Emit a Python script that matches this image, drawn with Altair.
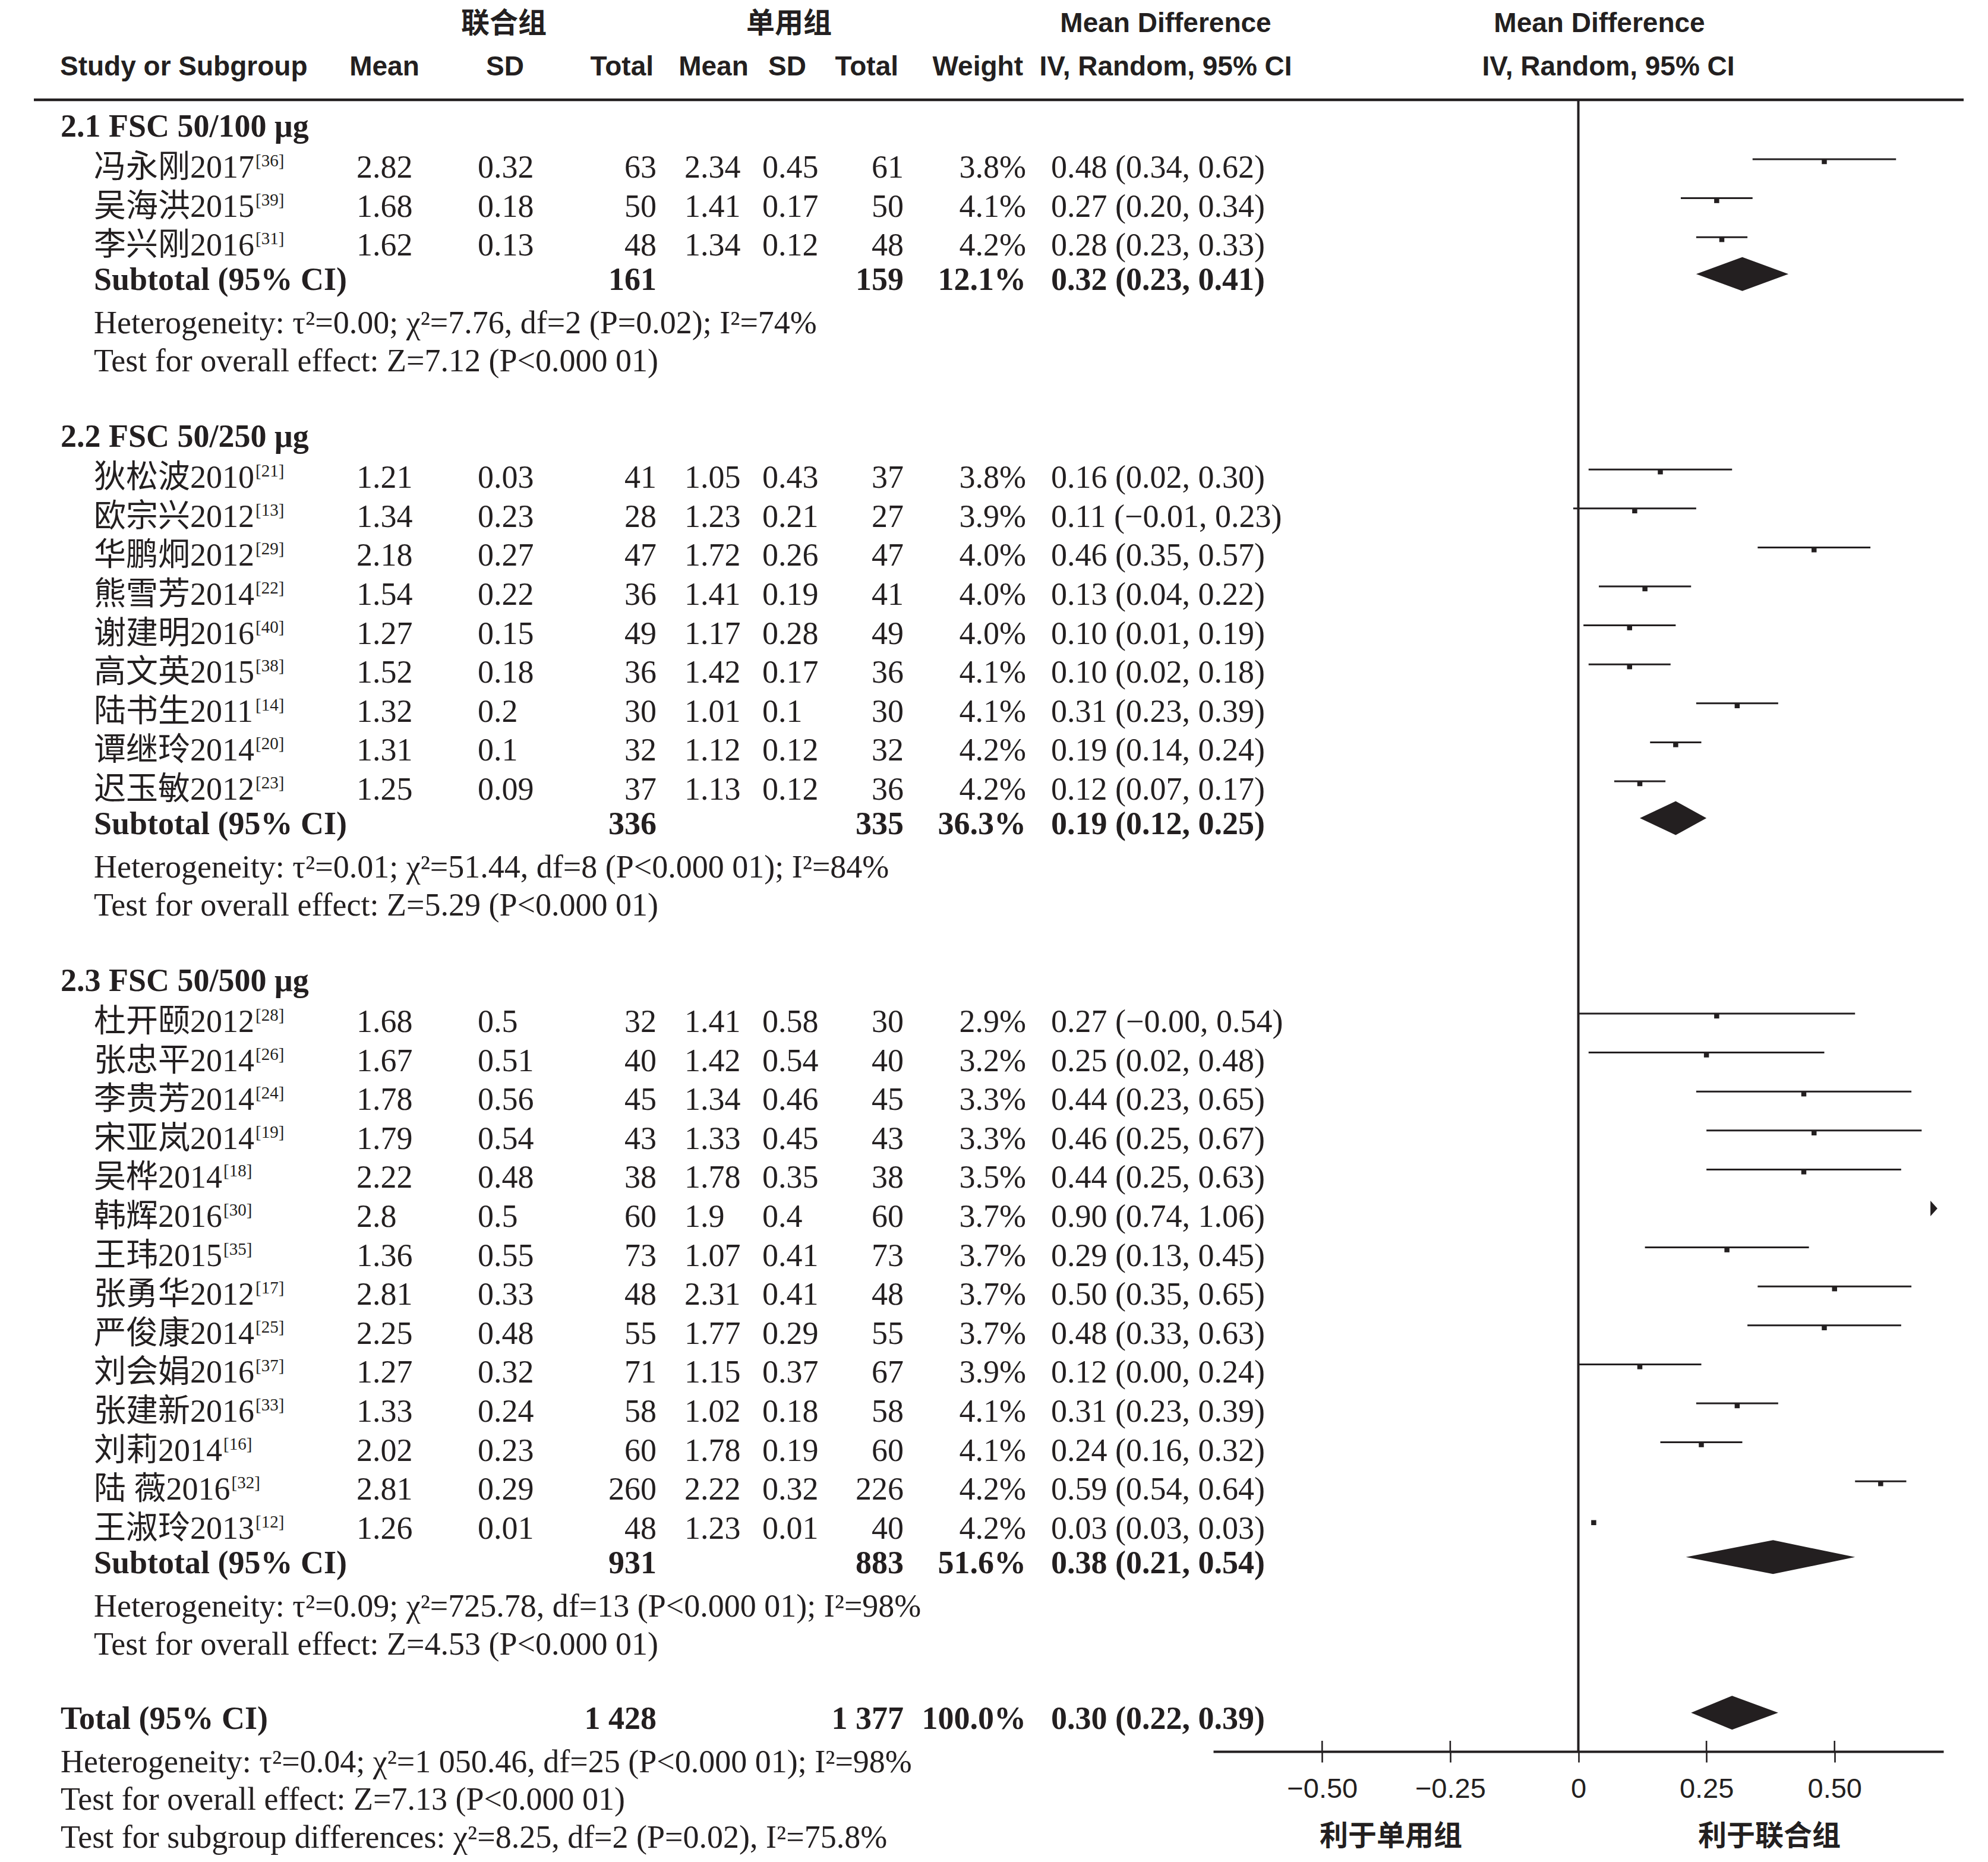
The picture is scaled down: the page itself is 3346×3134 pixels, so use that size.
import altair as alt
import pandas as pd

# ---------------- data ----------------
group_labels = ["2.1 FSC 50/100 μg", "2.2 FSC 50/250 μg", "2.3 FSC 50/500 μg"]
group_sizes = [3, 9, 14]
study_names = ["冯永刚2017", "吴海洪2015", "李兴刚2016",
               "狄松波2010", "欧宗兴2012", "华鹏炯2012", "熊雪芳2014", "谢建明2016",
               "高文英2015", "陆书生2011", "谭继玲2014", "迟玉敏2012",
               "杜开颐2012", "张忠平2014", "李贵芳2014", "宋亚岚2014", "吴桦2014",
               "韩辉2016", "王玮2015", "张勇华2012", "严俊康2014", "刘会娟2016",
               "张建新2016", "刘莉2014", "陆 薇2016", "王淑玲2013"]
study_refs = ["36", "39", "31", "21", "13", "29", "22", "40", "38", "14", "20", "23",
              "28", "26", "24", "19", "18", "30", "35", "17", "25", "37", "33", "16", "32", "12"]
comb_mean = ["2.82", "1.68", "1.62", "1.21", "1.34", "2.18", "1.54", "1.27", "1.52", "1.32", "1.31", "1.25",
             "1.68", "1.67", "1.78", "1.79", "2.22", "2.8", "1.36", "2.81", "2.25", "1.27", "1.33", "2.02", "2.81", "1.26"]
comb_sd = ["0.32", "0.18", "0.13", "0.03", "0.23", "0.27", "0.22", "0.15", "0.18", "0.2", "0.1", "0.09",
           "0.5", "0.51", "0.56", "0.54", "0.48", "0.5", "0.55", "0.33", "0.48", "0.32", "0.24", "0.23", "0.29", "0.01"]
comb_n = [63, 50, 48, 41, 28, 47, 36, 49, 36, 30, 32, 37,
          32, 40, 45, 43, 38, 60, 73, 48, 55, 71, 58, 60, 260, 48]
mono_mean = ["2.34", "1.41", "1.34", "1.05", "1.23", "1.72", "1.41", "1.17", "1.42", "1.01", "1.12", "1.13",
             "1.41", "1.42", "1.34", "1.33", "1.78", "1.9", "1.07", "2.31", "1.77", "1.15", "1.02", "1.78", "2.22", "1.23"]
mono_sd = ["0.45", "0.17", "0.12", "0.43", "0.21", "0.26", "0.19", "0.28", "0.17", "0.1", "0.12", "0.12",
           "0.58", "0.54", "0.46", "0.45", "0.35", "0.4", "0.41", "0.41", "0.29", "0.37", "0.18", "0.19", "0.32", "0.01"]
mono_n = [61, 50, 48, 37, 27, 47, 41, 49, 36, 30, 32, 36,
          30, 40, 45, 43, 38, 60, 73, 48, 55, 67, 58, 60, 226, 40]
weights = [3.8, 4.1, 4.2, 3.8, 3.9, 4.0, 4.0, 4.0, 4.1, 4.1, 4.2, 4.2,
           2.9, 3.2, 3.3, 3.3, 3.5, 3.7, 3.7, 3.7, 3.7, 3.9, 4.1, 4.1, 4.2, 4.2]
md = [0.48, 0.27, 0.28, 0.16, 0.11, 0.46, 0.13, 0.10, 0.10, 0.31, 0.19, 0.12,
      0.27, 0.25, 0.44, 0.46, 0.44, 0.90, 0.29, 0.50, 0.48, 0.12, 0.31, 0.24, 0.59, 0.03]
ci_lo = [0.34, 0.20, 0.23, 0.02, -0.01, 0.35, 0.04, 0.01, 0.02, 0.23, 0.14, 0.07,
         -0.00, 0.02, 0.23, 0.25, 0.25, 0.74, 0.13, 0.35, 0.33, 0.00, 0.23, 0.16, 0.54, 0.03]
ci_hi = [0.62, 0.34, 0.33, 0.30, 0.23, 0.57, 0.22, 0.19, 0.18, 0.39, 0.24, 0.17,
         0.54, 0.48, 0.65, 0.67, 0.63, 1.06, 0.45, 0.65, 0.63, 0.24, 0.39, 0.32, 0.64, 0.03]

sub_comb_n = [161, 336, 931]
sub_mono_n = [159, 335, 883]
sub_weight = [12.1, 36.3, 51.6]
sub_md = [0.32, 0.19, 0.38]
sub_lo = [0.23, 0.12, 0.21]
sub_hi = [0.41, 0.25, 0.54]
sub_het = ["τ²=0.00; χ²=7.76, df=2 (P=0.02); I²=74%",
           "τ²=0.01; χ²=51.44, df=8 (P<0.000 01); I²=84%",
           "τ²=0.09; χ²=725.78, df=13 (P<0.000 01); I²=98%"]
sub_z = ["Z=7.12 (P<0.000 01)", "Z=5.29 (P<0.000 01)", "Z=4.53 (P<0.000 01)"]

total_comb_n = 1428
total_mono_n = 1377
total_weight = 100.0
total_md, total_lo, total_hi = 0.30, 0.22, 0.39
total_het = "τ²=0.04; χ²=1 050.46, df=25 (P<0.000 01); I²=98%"
total_z = "Z=7.13 (P<0.000 01)"
subgroup_test = "χ²=8.25, df=2 (P=0.02), I²=75.8%"

axis_ticks = [-0.5, -0.25, 0, 0.25, 0.5]
axis_domain = [-0.7125, 0.7125]
favours = ["利于单用组", "利于联合组"]
col_head_groups = ["联合组", "单用组"]

# ---------------- styling / layout ----------------
INK = "#231f20"
OFF = 8            # page margin; chart origin sits exactly there (autosize none, padding 0)
BODY = 54
SUP = 29
HEAD = 46
CJKHEAD = 48
SERIF = "Liberation Serif, Noto Sans CJK SC"
SANS = "Liberation Sans, Noto Sans CJK SC"
CJK = "Liberation Sans, Noto Sans CJK SC"

W = 3320
H = 2940
PAD_BOTTOM = 178

X_GROUP, X_NAME = 102, 158
X_M1, X_SD1, X_N1 = 600, 804, 1105
X_M2, X_SD2, X_N2 = 1152, 1283, 1521
X_W, X_CI = 1727, 1769


def P(v):
    return v - OFF


def minus(s):
    return s.replace("-", "\u2212")


def ci_text(m, lo, hi):
    return minus(f"{m:.2f} ({lo:.2f}, {hi:.2f})")


def n_text(n):
    return f"{n:,}".replace(",", " ")


def name_width(s):
    w = 0.0
    for ch in s:
        if ord(ch) > 0x2E80:
            w += BODY
        elif ch == " ":
            w += 0.25 * BODY
        else:
            w += 0.5 * BODY
    return w


# vertical layout (text baselines, page px)
STEP = 65.6
y = 230.0
group_y, study_y, sub_y, het_y, z_y = [], [], [], [], []
for g, size in enumerate(group_sizes):
    group_y.append(y)
    y += 69
    for k in range(size):
        study_y.append(y)
        if k < size - 1:
            y += STEP
    y += 58
    sub_y.append(y)
    y += 73
    het_y.append(y)
    y += 64
    z_y.append(y)
    y += 127
total_y = z_y[-1] + 125
total_het_y = total_y + 73
total_z_y = total_het_y + 63
subgrp_y = total_z_y + 64

recs = []


def add(t, x, yy, style, align):
    recs.append(dict(t=t, x=P(x), y=P(yy), style=style, align=align))


# headers
add(col_head_groups[0], 848, 55, "cjkb", "center")
add(col_head_groups[1], 1328, 55, "cjkb", "center")
add("Mean Difference", 1962, 54, "sansb", "center")
add("Mean Difference", 2692, 54, "sansb", "center")
add("Study or Subgroup", 101, 127, "sansb", "left")
add("Mean", 647, 127, "sansb", "center")
add("SD", 850, 127, "sansb", "center")
add("Total", 1100, 127, "sansb", "right")
add("Mean", 1201, 127, "sansb", "center")
add("SD", 1325, 127, "sansb", "center")
add("Total", 1512, 127, "sansb", "right")
add("Weight", 1722, 127, "sansb", "right")
add("IV, Random, 95% CI", 1962, 127, "sansb", "center")
add("IV, Random, 95% CI", 2707, 127, "sansb", "center")

# body
i = 0
for g, size in enumerate(group_sizes):
    add(group_labels[g], X_GROUP, group_y[g], "serifb", "left")
    for k in range(size):
        yy = study_y[i]
        add(study_names[i], X_NAME, yy, "serif", "left")
        add(f"[{study_refs[i]}]", X_NAME + name_width(study_names[i]) + 2, yy - 19, "sup", "left")
        add(comb_mean[i], X_M1, yy, "serif", "left")
        add(comb_sd[i], X_SD1, yy, "serif", "left")
        add(n_text(comb_n[i]), X_N1, yy, "serif", "right")
        add(mono_mean[i], X_M2, yy, "serif", "left")
        add(mono_sd[i], X_SD2, yy, "serif", "left")
        add(n_text(mono_n[i]), X_N2, yy, "serif", "right")
        add(f"{weights[i]:.1f}%", X_W, yy, "serif", "right")
        add(ci_text(md[i], ci_lo[i], ci_hi[i]), X_CI, yy, "serif", "left")
        i += 1
    add("Subtotal (95% CI)", X_NAME, sub_y[g], "serifb", "left")
    add(n_text(sub_comb_n[g]), X_N1, sub_y[g], "serifb", "right")
    add(n_text(sub_mono_n[g]), X_N2, sub_y[g], "serifb", "right")
    add(f"{sub_weight[g]:.1f}%", X_W, sub_y[g], "serifb", "right")
    add(ci_text(sub_md[g], sub_lo[g], sub_hi[g]), X_CI, sub_y[g], "serifb", "left")
    add("Heterogeneity: " + sub_het[g], X_NAME, het_y[g], "serif", "left")
    add("Test for overall effect: " + sub_z[g], X_NAME, z_y[g], "serif", "left")

add("Total (95% CI)", X_GROUP, total_y, "serifb", "left")
add(n_text(total_comb_n), X_N1, total_y, "serifb", "right")
add(n_text(total_mono_n), X_N2, total_y, "serifb", "right")
add(f"{total_weight:.1f}%", X_W, total_y, "serifb", "right")
add(ci_text(total_md, total_lo, total_hi), X_CI, total_y, "serifb", "left")
add("Heterogeneity: " + total_het, X_GROUP, total_het_y, "serif", "left")
add("Test for overall effect: " + total_z, X_GROUP, total_z_y, "serif", "left")
add("Test for subgroup differences: " + subgroup_test, X_GROUP, subgrp_y, "serif", "left")
add(favours[0], 2341, 3106, "cjkb", "center")
add(favours[1], 2978, 3106, "cjkb", "center")

text_df = pd.DataFrame(recs)

STYLES = {
    "serif": dict(font=SERIF, fontSize=BODY, fontWeight="normal"),
    "serifb": dict(font=SERIF, fontSize=BODY, fontWeight="bold"),
    "sup": dict(font=SERIF, fontSize=SUP, fontWeight="normal"),
    "sansb": dict(font=SANS, fontSize=HEAD, fontWeight="bold"),
    "cjkb": dict(font=CJK, fontSize=CJKHEAD, fontWeight="bold"),
}

XS = alt.Scale(domain=[0, W], range=[0, W], nice=False, zero=False)
YS = alt.Scale(domain=[0, H], range=[0, H], nice=False, zero=False)
FX = alt.Scale(domain=axis_domain, range=[P(2042), P(3271)], nice=False, zero=False)

table_layers = []
for (style, align), sub in text_df.groupby(["style", "align"]):
    table_layers.append(
        alt.Chart(sub).mark_text(align=align, baseline="alphabetic", color=INK, **STYLES[style]).encode(
            x=alt.X("x:Q", scale=XS, axis=None),
            y=alt.Y("y:Q", scale=YS, axis=None),
            text=alt.Text("t:N"),
        )
    )

rule_df = pd.DataFrame([dict(x1=P(57), x2=P(3305), y=P(168))])
table_layers.append(
    alt.Chart(rule_df).mark_rule(strokeWidth=4.5, color=INK).encode(
        x=alt.X("x1:Q", scale=XS, axis=None), x2="x2:Q",
        y=alt.Y("y:Q", scale=YS, axis=None))
)

# ---------------- forest ----------------
XAX = alt.Axis(orient="bottom", values=axis_ticks, title=None, grid=False,
               labelExpr="datum.value == 0 ? '0' : format(datum.value, '.2f')",
               domainWidth=4, domainColor=INK, tickColor=INK, tickWidth=2.6, tickSize=18,
               labelFont=SANS, labelFontSize=47, labelColor=INK, labelPadding=22,
               labelFlush=False, labelOverlap=False)

xmin, xmax = axis_domain
ci_rows, sq_rows, arrow_rows = [], [], []
for i in range(len(md)):
    yl = P(study_y[i] - 31)
    if ci_hi[i] >= xmin and ci_lo[i] <= xmax:
        ci_rows.append(dict(lo=max(ci_lo[i], xmin), hi=min(ci_hi[i], xmax), y=yl))
    if xmin <= md[i] <= xmax:
        sq_rows.append(dict(m=md[i], y=yl))
    if ci_lo[i] > xmax:
        arrow_rows.append(dict(m=xmax, y=yl))
ci_df = pd.DataFrame(ci_rows)
sq_df = pd.DataFrame(sq_rows)
arrow_df = pd.DataFrame(arrow_rows)

HALF = 28.5
dia_rows = []
dia_specs = [(sub_md[g], sub_lo[g], sub_hi[g], sub_y[g]) for g in range(3)] + [(total_md, total_lo, total_hi, total_y)]
for d, (m, lo, hi, yy) in enumerate(dia_specs):
    yc = P(yy - 27)
    dia_rows += [dict(id=d, x=lo, y1=yc, y2=yc), dict(id=d, x=m, y1=yc - HALF, y2=yc + HALF),
                 dict(id=d, x=hi, y1=yc, y2=yc)]
dia_df = pd.DataFrame(dia_rows)

zero_df = pd.DataFrame([dict(x=0.0, y1=P(168), y2=H)])
tick_df = pd.DataFrame([dict(x=t, y1=H - 18, y2=H) for t in axis_ticks])

forest_layers = [
    alt.Chart(zero_df).mark_rule(strokeWidth=4, color=INK).encode(
        x=alt.X("x:Q", scale=FX, axis=XAX), y=alt.Y("y1:Q", scale=YS, axis=None), y2="y2:Q"),
    alt.Chart(tick_df).mark_rule(strokeWidth=2.6, color=INK).encode(
        x=alt.X("x:Q", scale=FX, axis=XAX), y=alt.Y("y1:Q", scale=YS, axis=None), y2="y2:Q"),
    alt.Chart(ci_df).mark_rule(strokeWidth=3, color=INK).encode(
        x=alt.X("lo:Q", scale=FX, axis=XAX), x2="hi:Q", y=alt.Y("y:Q", scale=YS, axis=None)),
    alt.Chart(sq_df).mark_point(shape="square", filled=True, size=72, yOffset=4, opacity=1, color=INK).encode(
        x=alt.X("m:Q", scale=FX, axis=XAX), y=alt.Y("y:Q", scale=YS, axis=None)),
    alt.Chart(arrow_df).mark_point(shape="M -0.45 -1 L 0.45 0 L -0.45 1 Z", filled=True, size=676,
                                   xOffset=-16, opacity=1, color=INK, strokeWidth=0).encode(
        x=alt.X("m:Q", scale=FX, axis=XAX), y=alt.Y("y:Q", scale=YS, axis=None)),
    alt.Chart(dia_df).mark_area(orient="vertical", interpolate="linear", color=INK, opacity=1).encode(
        x=alt.X("x:Q", scale=FX, axis=XAX), y=alt.Y("y1:Q", scale=YS, axis=None), y2="y2:Q",
        detail="id:N"),
]

chart = alt.layer(
    alt.layer(*forest_layers),
    alt.layer(*table_layers),
).resolve_scale(x="independent").properties(
    width=W, height=H, background="white",
    padding={"top": 0, "left": 0, "right": 0, "bottom": PAD_BOTTOM},
    autosize=alt.AutoSizeParams(type="none"),
).configure_view(stroke=None)

chart.save("out.html", embed_options={"renderer": "svg", "actions": False})
